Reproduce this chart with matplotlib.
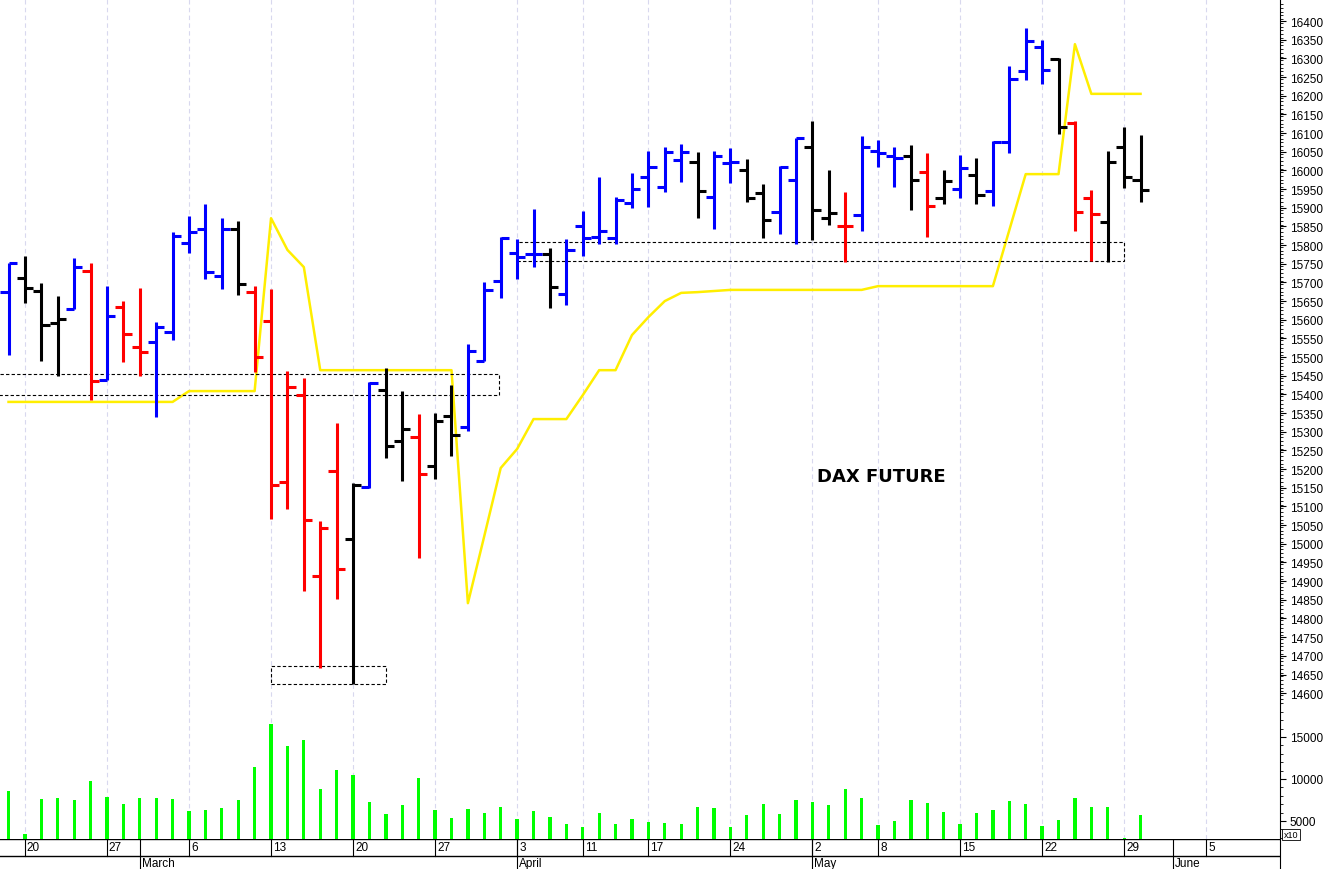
import matplotlib
matplotlib.use("Agg")
import matplotlib.pyplot as plt
import numpy as np
import pandas as pd
from matplotlib.patches import Rectangle

plt.rcParams['font.family'] = ['Liberation Sans', 'DejaVu Sans']

# ---- data (daily bars from 2023-02-17 to 2023-05-30) ----
opens = [15674,15712,15677,15591,15629,15731,15439,15634,15527,15540,15567,15806,15843,15717,15843,15674,
         15597,15166,15398,14914,15195,15013,15152,15412,15275,15286,15208,15342,15313,15490,15704,15779,
         15776,15776,15669,15851,15822,15819,15913,15982,15956,16028,16022,15929,16020,16001,15939,15889,
         15974,16063,15872,15851,15881,16052,16039,16039,15996,15926,15950,15988,15945,16076,16266,16330,
         16298,16127,15926,15862,16063,15974]
highs = [15752,15771,15698,15664,15765,15752,15690,15650,15685,15594,15835,15878,15910,15873,15864,15690,
         15682,15463,15444,15061,15324,15163,15433,15471,15409,15348,15350,15425,15535,15701,15822,15816,
         15897,15792,15816,15891,15982,15929,15993,16052,16063,16071,16049,16052,16060,16031,15964,16012,
         16087,16132,16001,15942,16092,16081,16063,16068,16047,16001,16041,16033,16079,16280,16381,16349,
         16301,16132,15947,16052,16116,16095]
lows = [15506,15645,15490,15449,15629,15385,15439,15487,15449,15340,15546,15779,15709,15682,15666,15460,
        15066,15093,14874,14667,14852,14625,15149,15230,15168,14962,15174,15235,15302,15490,15658,15709,
        15741,15632,15640,15771,15803,15803,15899,15902,15942,15969,15872,15843,15966,15915,15819,15830,
        15803,15814,15854,15755,15838,16009,15956,15894,15822,15910,15926,15910,15905,16047,16242,16231,
        16097,15838,15757,15755,15953,15915]
closes = [15752,15685,15586,15602,15741,15436,15610,15562,15514,15581,15824,15835,15728,15843,15696,15500,
          15157,15420,15064,15042,14932,15157,15431,15262,15307,15187,15329,15291,15516,15680,15819,15768,
          15776,15688,15787,15819,15838,15921,15950,16009,16049,16049,15945,16039,16022,15926,15867,16009,
          16087,15894,15886,15851,16063,16047,16033,15974,15905,15972,16006,15934,16076,16245,16346,16269,
          16116,15889,15883,16022,15982,15947]
bar_colors = list("BKKKBRBRRBBBBBKRRRRRRKBKKRKKBBBBBKBBBBBBBBKBBKKBBKKRBBBKRKBKBBBBKRRKKK")
volumes = [8570,3450,7620,7740,7500,9760,7860,7020,7740,7740,7620,6190,6310,6550,7500,11430,
           16540,13930,14640,8810,11070,10470,7260,5830,6900,10120,6310,5360,6430,5950,6670,5240,
           6190,5480,4640,4290,5950,4640,5240,4880,4760,4640,6670,6550,4290,5710,7020,5830,
           7500,7260,6900,8810,7740,4520,5000,7500,7140,6070,4640,5950,6310,7380,7020,4400,
           5120,7740,6670,6670,2980,5710]
stop_line = [15380]*11 + [15409]*5 + [15872,15787,15741] + [15465]*9 + [14841,15021,15203,15254,15334,15334,
             15334,15398,15465,15465,15559,15607,15650,15672,15674,15677] + [15680]*9 + [15690]*8 + \
            [15840,15990,15990,15990,16338,16205,16205,16205,16205]
# zones: (first bar, last bar, low, high)
zones = [(-1.0, 29.9, 15398, 15455), (16, 23, 14624, 14673), (31, 68, 15757, 15808)]

holidays = ['2023-04-07', '2023-04-10', '2023-05-01']
days = [d for d in pd.bdate_range('2023-02-17', '2023-06-09') if d.strftime('%Y-%m-%d') not in holidays]

cmap = {'B': '#0000FF', 'K': '#000000', 'R': '#FF0000'}
W, H = 1328, 870
fig = plt.figure(figsize=(W/100, H/100), dpi=100)
right = 1280/W
ax = fig.add_axes([0, (H-705)/H, right, 705/H])
axv = fig.add_axes([0, 30/H, right, 135/H])
axd = fig.add_axes([0, 0, right, 30/H])

n = len(opens)
x = np.arange(n)
xlim = (-0.52, 77.5)

# week ticks (first trading day of each week)
week_idx = []
for i, d in enumerate(days):
    if i > 0 and d.isocalendar()[1] != days[i-1].isocalendar()[1]:
        week_idx.append(i)
month_idx = [i for i, d in enumerate(days) if i > 0 and d.month != days[i-1].month]

for a in (ax, axv):
    a.set_xlim(*xlim)
    for wi in week_idx:
        a.axvline(wi, color='#d8d8ee', lw=0.8, ls=(0, (4, 3)), zorder=0)
    a.set_xticks([])
    a.yaxis.tick_right()
    for s in ['left', 'top', 'bottom']:
        a.spines[s].set_visible(False)
    a.tick_params(axis='y', which='major', length=4, labelsize=8.5, pad=3)
    a.tick_params(axis='y', which='minor', length=2)

# price panel
ax.set_ylim(14571, 16459)
cols = [cmap[c] for c in bar_colors]
ax.vlines(x, lows, highs, colors=cols, lw=2.2, zorder=3)
ax.hlines(opens, x-0.5, x, colors=cols, lw=2.2, zorder=3)
ax.hlines(closes, x, x+0.5, colors=cols, lw=2.2, zorder=3)
ax.plot(x, stop_line, color='#FFEE00', lw=1.8, zorder=2)
for x0, x1, lo, hi in zones:
    ax.add_patch(Rectangle((x0, lo), x1-x0, hi-lo, fill=False, ec='black', lw=0.8, ls=(0, (3, 2)), zorder=2))
ax.text(53.2, 15181, 'DAX FUTURE', fontsize=13, fontweight='bold', family=['DejaVu Sans'], ha='center', va='center')
ax.set_yticks(np.arange(14600, 16401, 50))
ax.set_yticks(np.arange(14575, 16451, 10), minor=True)

# volume panel
axv.set_ylim(2858, 18923)
axv.bar(x, volumes, width=0.2, color='#00FF00', zorder=3)
axv.set_yticks([5000, 10000, 15000])
axv.set_yticks(np.arange(3000, 18901, 1000), minor=True)
axv.text(1.003, 0.0, 'x10', transform=axv.transAxes, fontsize=6.5, va='bottom', ha='left',
         bbox=dict(boxstyle='square,pad=0.15', fc='white', ec='black', lw=0.6))

# date strip
axd.set_xlim(*xlim)
axd.set_ylim(0, 30)
axd.axis('off')
axd.axhline(30, color='black', lw=1)
axd.axhline(13, color='black', lw=1)
for wi in week_idx:
    axd.plot([wi, wi], [13, 30], color='black', lw=0.8)
    axd.text(wi + 0.12, 21.5, str(days[wi].day), fontsize=8.5, va='center', ha='left')
for mi in month_idx:
    axd.plot([mi, mi], [0, 30], color='black', lw=0.8)
    axd.text(mi + 0.12, 5.5, days[mi].strftime('%B'), fontsize=8.5, va='center', ha='left')
axd.plot([xlim[1], xlim[1]], [0, 30], color='black', lw=0.8, clip_on=False)

fig.savefig('out.png', dpi=100)
